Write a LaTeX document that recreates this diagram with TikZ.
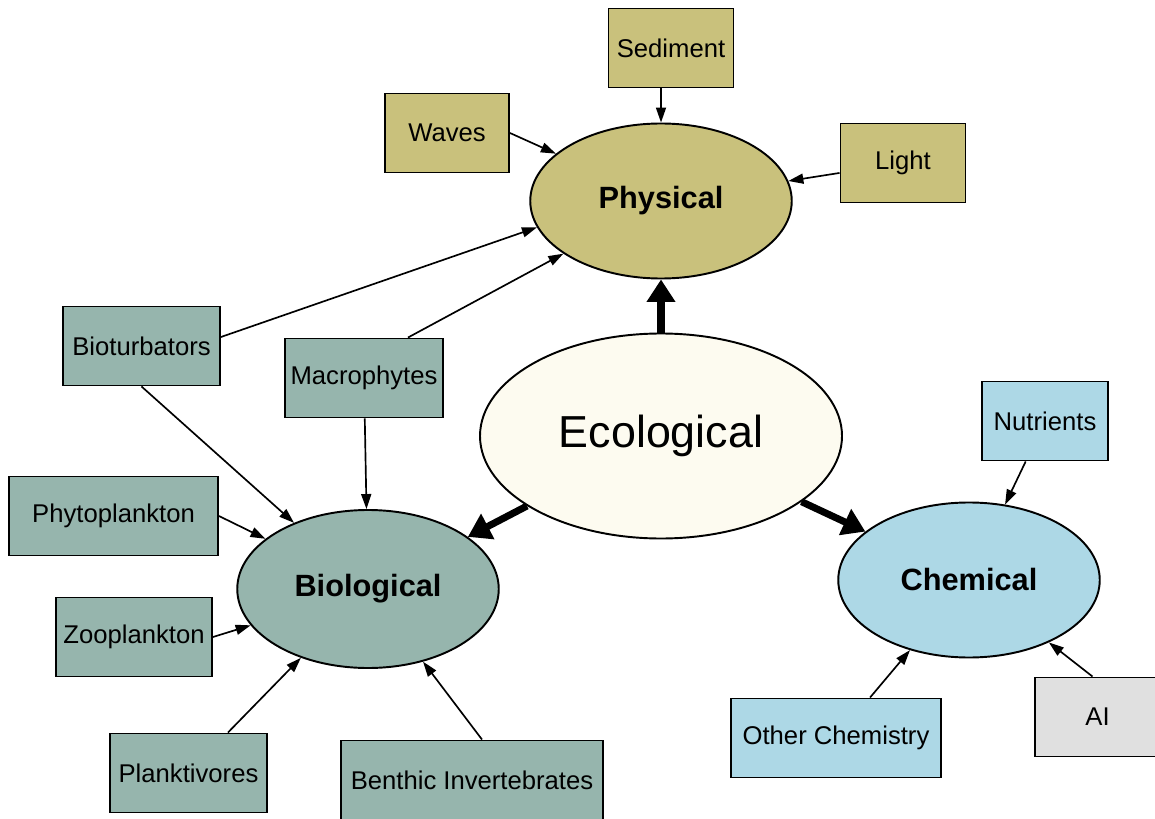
\documentclass[tikz,border=0pt]{standalone}
\usepackage{fontspec}
\setmainfont{Liberation Sans}
\usepackage{tikz}
\usetikzlibrary{arrows.meta, shapes.geometric}
\definecolor{physcol}{RGB}{201,193,124}
\definecolor{biocol}{RGB}{150,181,173}
\definecolor{chemcol}{RGB}{173,216,230}
\definecolor{ecocol}{RGB}{253,251,240}
\definecolor{aicol}{RGB}{224,224,224}
\begin{document}
\begin{tikzpicture}[
    hub/.style={draw, ellipse, line width=1.1pt, inner sep=0pt,
                minimum width=5.23cm, minimum height=3.1cm,
                font=\fontsize{17.5}{20}\selectfont\bfseries},
    box/.style={draw, line width=1.1pt, minimum height=1.58cm,
                align=center, font=\fontsize{14.6}{17}\selectfont},
    feed/.style={line width=0.95pt, -{Triangle[length=0.3cm, width=0.2cm]}},
    main/.style={line width=4pt, -{Triangle[length=0.45cm, width=0.55cm]}}
]
    \useasboundingbox (0,0) rectangle (23.1,16.36);
    \node[hub, fill=physcol] (phys) at (13.22,12.34) {Physical};
    \node[hub, fill=biocol, minimum height=3.16cm] (bio) at (7.36,4.58) {Biological};
    \node[hub, fill=chemcol] (chem) at (19.38,4.76) {Chemical};
    \node[hub, fill=ecocol, minimum width=7.24cm, minimum height=4.1cm,
          font=\fontsize{25.5}{30}\selectfont] (eco) at (13.22,7.64) {Ecological};
    \foreach \nm/\txt/\x/\y/\w/\col in {
        sed/Sediment/13.42/15.40/2.5/physcol,
        waves/Waves/8.94/13.70/2.48/physcol,
        light/Light/18.06/13.10/2.5/physcol,
        bioturb/Bioturbators/2.83/9.44/3.14/biocol,
        macro/Macrophytes/7.28/8.80/3.12/biocol,
        phyto/Phytoplankton/2.27/6.04/4.18/biocol,
        zoo/Zooplankton/2.68/3.62/3.12/biocol,
        plank/Planktivores/3.77/0.90/3.14/biocol,
        benth/Benthic Invertebrates/9.44/0.76/5.24/biocol,
        nutr/Nutrients/20.90/7.94/2.52/chemcol,
        other/Other Chemistry/16.72/1.60/4.2/chemcol,
        ai/AI/21.95/2.02/2.5/aicol%
    }{
        \node[box, fill=\col, minimum width=\w cm] (\nm) at (\x,\y) {\txt};
    }
    \draw[feed] (sed.south -| phys.north) -- (phys.north);
    \draw[feed] (waves.east) -- (phys);
    \draw[feed] (light) -- (phys);
    \draw[feed] ([yshift=1.8mm]bioturb.east) -- (phys.192);
    \draw[feed] ([xshift=8.8mm]macro.north) -- (phys);
    \draw[feed] (bioturb.south) -- (bio);
    \draw[feed] (macro) -- (bio);
    \draw[feed] (phyto.east) -- (bio);
    \draw[feed] (zoo.east) -- (bio);
    \draw[feed] (plank) -- (bio);
    \draw[feed] ([xshift=2mm]benth.north) -- (bio);
    \draw[feed] (nutr) -- (chem);
    \draw[feed] (other) -- (chem);
    \draw[feed] ([xshift=-1mm]ai.north) -- (chem);
    \draw[main] (eco) -- (phys);
    \draw[main] (eco) -- (bio);
    \draw[main] (eco) -- (chem);
\end{tikzpicture}
\end{document}
